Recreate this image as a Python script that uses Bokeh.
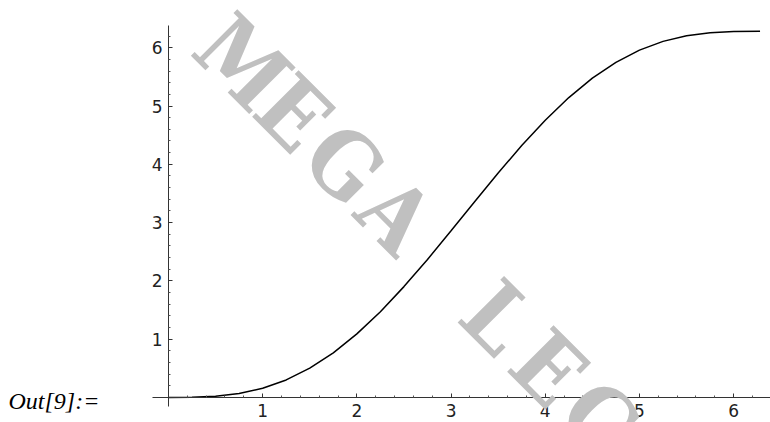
from bokeh.plotting import figure
from bokeh.models import FixedTicker, Label, Range1d
from bokeh.embed import file_html
from bokeh.resources import INLINE

# curve values
xs = [0.0, 0.25, 0.5, 0.75, 1.0, 1.25, 1.5, 1.75, 2.0, 2.25, 2.5, 2.75, 3.0,
      3.25, 3.5, 3.75, 4.0, 4.25, 4.5, 4.75, 5.0, 5.25, 5.5, 5.75, 6.0, 6.28]
ys = [0.0, 0.003, 0.021, 0.068, 0.159, 0.301, 0.503, 0.766, 1.091, 1.472,
      1.902, 2.368, 2.859, 3.358, 3.851, 4.322, 4.757, 5.145, 5.478, 5.749,
      5.959, 6.109, 6.206, 6.258, 6.279, 6.283]

x_ticks = [1, 2, 3, 4, 5, 6]
y_ticks = [1, 2, 3, 4, 5, 6]
minor_step = 0.2
x_axis_extent = (-0.17, 6.39)
y_axis_extent = (-0.154, 6.38)

watermark = "MEGA LECT"
prompt = "Out[9]:="

p = figure(width=770, height=422, output_backend="svg", toolbar_location=None,
           x_range=Range1d(-1.783, 6.391), y_range=Range1d(-0.429, 6.81),
           min_border_left=0, min_border_right=0, min_border_top=0,
           min_border_bottom=0)
p.outline_line_color = None
p.grid.visible = False
p.background_fill_color = "white"
p.border_fill_color = "white"

def minors(limit):
    out = []
    k = 1
    while k * minor_step < limit:
        v = round(k * minor_step, 3)
        if abs(v - round(v)) > 1e-6:
            out.append(v)
        k += 1
    return out

p.xaxis.ticker = FixedTicker(ticks=x_ticks, minor_ticks=minors(x_axis_extent[1]))
p.yaxis.ticker = FixedTicker(ticks=y_ticks, minor_ticks=minors(y_axis_extent[1]))
p.xaxis.fixed_location = 0
p.yaxis.fixed_location = 0
p.xaxis.bounds = x_axis_extent
p.yaxis.bounds = y_axis_extent

for ax in (p.xaxis, p.yaxis):
    ax.axis_line_color = "#333333"
    ax.axis_line_width = 1
    ax.major_tick_in = 4
    ax.major_tick_out = 0
    ax.minor_tick_in = 2
    ax.minor_tick_out = 0
    ax.major_tick_line_color = "#333333"
    ax.minor_tick_line_color = "#555555"
    ax.major_label_text_font = "DejaVu Sans"
    ax.major_label_text_color = "#222222"
p.xaxis.major_label_text_font_size = "17px"
p.yaxis.major_label_text_font_size = "17px"
p.xaxis.major_label_standoff = 7
p.yaxis.major_label_standoff = 6

p.line(xs, ys, line_color="black", line_width=1.5)

# watermark: monospaced letters laid out along a 45 degree diagonal
wm_x0, wm_y0 = 0.790, 5.752      # baseline start of first letter (data units)
wm_dx, wm_dy = 0.5414, -0.8748   # advance per letter (data units)
for i, ch in enumerate(watermark):
    if ch == " ":
        continue
    p.add_layout(Label(x=wm_x0 + i * wm_dx, y=wm_y0 + i * wm_dy, text=ch,
                       angle=-0.785, text_font="DejaVu Serif Condensed",
                       text_font_style="bold", text_font_size="90px",
                       text_color="#c0c0c0", text_align="center",
                       text_baseline="alphabetic"))

p.add_layout(Label(x=-1.698, y=-0.052, text=prompt,
                   text_font="Liberation Serif", text_font_style="italic",
                   text_font_size="24px", text_color="black",
                   text_align="left", text_baseline="alphabetic"))

open("out.html", "w").write(file_html(p, INLINE))
